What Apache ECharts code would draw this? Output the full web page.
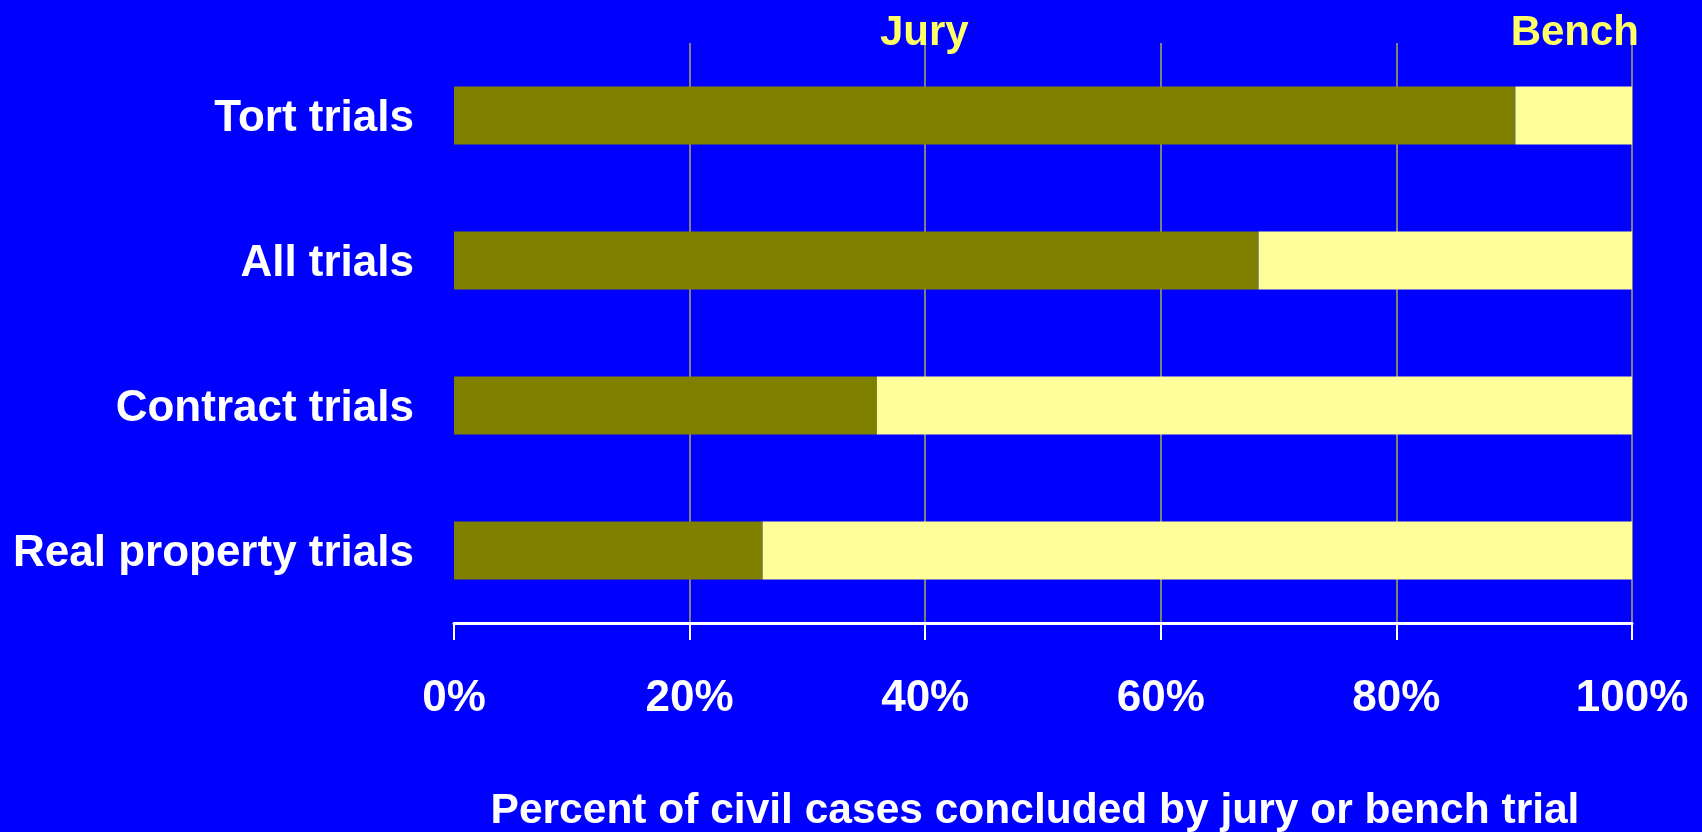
<!DOCTYPE html>
<html>
<head>
<meta charset="utf-8">
<script src="https://cdn.jsdelivr.net/npm/echarts@6/dist/echarts.min.js"></script>
<style>
  html, body { margin: 0; padding: 0; background: #0000ff; }
  #chart { width: 1702px; height: 832px; }
</style>
</head>
<body>
<div id="chart"></div>
<script>
// categories, top to bottom
var categories = ['Tort trials', 'All trials', 'Contract trials', 'Real property trials'];
// percent of cases concluded by jury trial
var juryValues = [90.1, 68.3, 35.9, 26.2];
// percent concluded by bench trial (rest of the 100%)
var benchValues = [9.9, 31.7, 64.1, 73.8];
var xTicks = [0, 20, 40, 60, 80, 100];

var font = '"Liberation Sans", Arial, sans-serif';
var myChart = echarts.init(document.getElementById('chart'));

var option = {
  backgroundColor: '#0000ff',
  animation: false,
  textStyle: { fontFamily: font },
  legend: [
    {
      data: ['Jury'],
      icon: 'none',
      itemWidth: 0,
      left: 870,
      top: 7,
      selectedMode: false,
      textStyle: { color: '#ffff66', fontSize: 42, fontWeight: 'bold', fontFamily: font }
    },
    {
      data: ['Bench'],
      icon: 'none',
      itemWidth: 0,
      right: 58,
      top: 7,
      selectedMode: false,
      textStyle: { color: '#ffff66', fontSize: 42, fontWeight: 'bold', fontFamily: font }
    }
  ],
  grid: {
    left: 454,
    right: 70,
    top: 43,
    bottom: 209,
    outerBoundsMode: 'none'
  },
  xAxis: {
    type: 'value',
    min: xTicks[0],
    max: xTicks[xTicks.length - 1],
    interval: 20,
    name: 'Percent of civil cases concluded by jury or bench trial',
    nameLocation: 'middle',
    nameGap: 167,
    nameTextStyle: {
      color: '#ffffff', fontSize: 42.5, fontWeight: 'bold', fontFamily: font,
      padding: [0, 16, 0, 0]
    },
    axisLine: { show: true, lineStyle: { color: '#ffffff', width: 3 } },
    axisTick: { show: true, length: 17, lineStyle: { color: '#ffffff', width: 2 } },
    axisLabel: {
      color: '#ffffff', fontSize: 44, fontWeight: 'bold', fontFamily: font,
      margin: 54,
      formatter: '{value}%'
    },
    splitLine: {
      show: true,
      showMinLine: false,
      lineStyle: { color: '#808080', width: 2 }
    }
  },
  yAxis: {
    type: 'category',
    inverse: true,
    data: categories,
    axisLine: { show: false },
    axisTick: { show: false },
    axisLabel: {
      margin: 40,
      formatter: function (v) { return '{c|' + v + '}'; },
      rich: {
        c: {
          color: '#ffffff', fontSize: 44, fontWeight: 'bold', fontFamily: font,
          padding: [7, 0, 0, 0]
        }
      }
    }
  },
  series: [
    {
      name: 'Jury',
      type: 'bar',
      stack: 'total',
      barWidth: '40%',
      itemStyle: { color: '#808000' },
      data: juryValues
    },
    {
      name: 'Bench',
      type: 'bar',
      stack: 'total',
      barWidth: '40%',
      itemStyle: { color: '#ffff99' },
      data: benchValues
    }
  ]
};

myChart.setOption(option);
</script>
</body>
</html>
